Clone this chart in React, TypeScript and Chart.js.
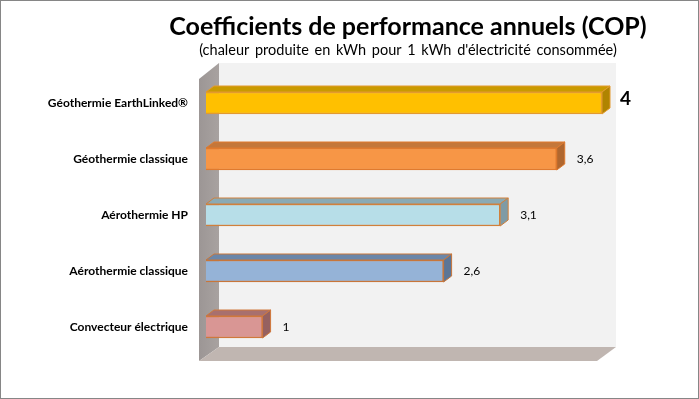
import React, { useEffect, useRef } from "react";
import { Chart, registerables } from "chart.js";

Chart.register(...registerables);

const categories = [
  "Géothermie EarthLinked®",
  "Géothermie classique",
  "Aérothermie HP",
  "Aérothermie classique",
  "Convecteur électrique",
];
const values = [4, 3.6, 3.1, 2.6, 1];
const valueLabels = ["4", "3,6", "3,1", "2,6", "1"];
const frontColors = ["#FFC000", "#F79646", "#B7DEE8", "#95B3D7", "#D99694"];
const topColors = ["#C99A00", "#C4773A", "#8AAAB4", "#6B86A8", "#A8706E"];
const sideColors = ["#B08400", "#B0672F", "#7F9BA5", "#5C7596", "#966160"];
const borderColors = ["#E39A2E", "#E07A2E", "#D0803C", "#C8763A", "#D0783C"];
const titleText = "Coefficients de performance annuels (COP)";
const subtitleText = "(chaleur produite en kWh pour 1 kWh d'électricité consommée)";

const FONT = "Lato, 'Open Sans', sans-serif";

const decoPlugin = {
  id: "deco",
  beforeDraw(chart: any) {
    const { ctx, chartArea, width, height } = chart;
    ctx.save();
    ctx.fillStyle = "#FFFFFF";
    ctx.fillRect(0, 0, width, height);
    const frontLeft = chartArea.left - 7;
    const backLeft = frontLeft + 20;
    const backTop = chartArea.top - 12;
    const floorBack = chartArea.bottom - 8;
    const floorFront = floorBack + 14;
    const backRight = chartArea.right + 14;
    const frontRight = backRight - 19;
    ctx.fillStyle = "#F2F2F2";
    ctx.fillRect(backLeft, backTop, backRight - backLeft, floorBack - backTop);
    const g = ctx.createLinearGradient(frontLeft, 0, backLeft, 0);
    g.addColorStop(0, "#9C9695");
    g.addColorStop(1, "#A8A2A0");
    ctx.fillStyle = g;
    ctx.beginPath();
    ctx.moveTo(frontLeft, backTop + 16);
    ctx.lineTo(backLeft, backTop);
    ctx.lineTo(backLeft, floorBack);
    ctx.lineTo(frontLeft, floorFront);
    ctx.closePath();
    ctx.fill();
    ctx.fillStyle = "#C0B6B1";
    ctx.beginPath();
    ctx.moveTo(frontLeft, floorFront);
    ctx.lineTo(backLeft, floorBack);
    ctx.lineTo(backRight, floorBack);
    ctx.lineTo(frontRight, floorFront);
    ctx.closePath();
    ctx.fill();
    ctx.fillStyle = "#000000";
    ctx.textAlign = "center";
    ctx.textBaseline = "alphabetic";
    ctx.font = "bold 25px " + FONT;
    ctx.fillText(titleText, 408, 35);
    ctx.font = "14.5px " + FONT;
    ctx.wordSpacing = "2px";
    ctx.fillText(subtitleText, 408, 55);
    ctx.restore();
  },
  afterDatasetsDraw(chart: any) {
    const { ctx, chartArea } = chart;
    const meta = chart.getDatasetMeta(0);
    const dx = 8;
    const dy = 6;
    ctx.save();
    meta.data.forEach((bar: any, i: number) => {
      const p = bar.getProps(["x", "y", "base", "height"], true);
      const x0 = Math.max(p.base, chartArea.left);
      const x1 = p.x;
      const yT = p.y - p.height / 2;
      const yB = p.y + p.height / 2;
      ctx.lineWidth = 1;
      ctx.strokeStyle = borderColors[i];
      ctx.fillStyle = topColors[i];
      ctx.beginPath();
      ctx.moveTo(x0, yT);
      ctx.lineTo(x0 + dx, yT - dy);
      ctx.lineTo(x1 + dx, yT - dy);
      ctx.lineTo(x1, yT);
      ctx.closePath();
      ctx.fill();
      ctx.stroke();
      ctx.fillStyle = sideColors[i];
      ctx.beginPath();
      ctx.moveTo(x1, yT);
      ctx.lineTo(x1 + dx, yT - dy);
      ctx.lineTo(x1 + dx, yB - dy);
      ctx.lineTo(x1, yB);
      ctx.closePath();
      ctx.fill();
      ctx.stroke();
      ctx.fillStyle = "#000000";
      ctx.textAlign = "left";
      ctx.textBaseline = "middle";
      if (i === 0) {
        ctx.font = "bold 19px " + FONT;
        ctx.fillText(valueLabels[i], x1 + dx + 10, p.y - 4);
      } else {
        ctx.font = "12px " + FONT;
        ctx.fillText(valueLabels[i], x1 + dx + 12, p.y);
      }
    });
    ctx.restore();
  },
  afterDraw(chart: any) {
    const { ctx, width, height } = chart;
    ctx.save();
    ctx.strokeStyle = "#868686";
    ctx.lineWidth = 1;
    ctx.strokeRect(0.5, 0.5, width - 1, height - 1);
    ctx.restore();
  },
};

export default function App() {
  const ref = useRef<HTMLCanvasElement>(null);
  useEffect(() => {
    document.body.style.margin = "0";
    const chart = new Chart(ref.current!, {
      type: "bar",
      data: {
        labels: categories,
        datasets: [
          {
            data: values,
            backgroundColor: frontColors,
            borderColor: borderColors,
            borderWidth: 1.5,
            borderSkipped: false,
            barThickness: 22,
          },
        ],
      },
      options: {
        indexAxis: "y",
        responsive: false,
        animation: false,
        layout: { padding: { left: 8, right: 97, top: 75, bottom: 44 } },
        plugins: {
          legend: { display: false },
          tooltip: { enabled: false },
          title: { display: false },
        },
        scales: {
          x: { display: false, min: 0.5, max: 4 },
          y: {
            grid: { display: false },
            border: { display: false },
            ticks: {
              color: "#000000",
              padding: 10,
              font: { family: FONT, size: 12, weight: "bold" },
            },
            afterFit: (s: any) => {
              s.width = 198;
            },
          },
        },
      },
      plugins: [decoPlugin],
    } as any);
    return () => chart.destroy();
  }, []);
  return <canvas ref={ref} width={699} height={399} />;
}
